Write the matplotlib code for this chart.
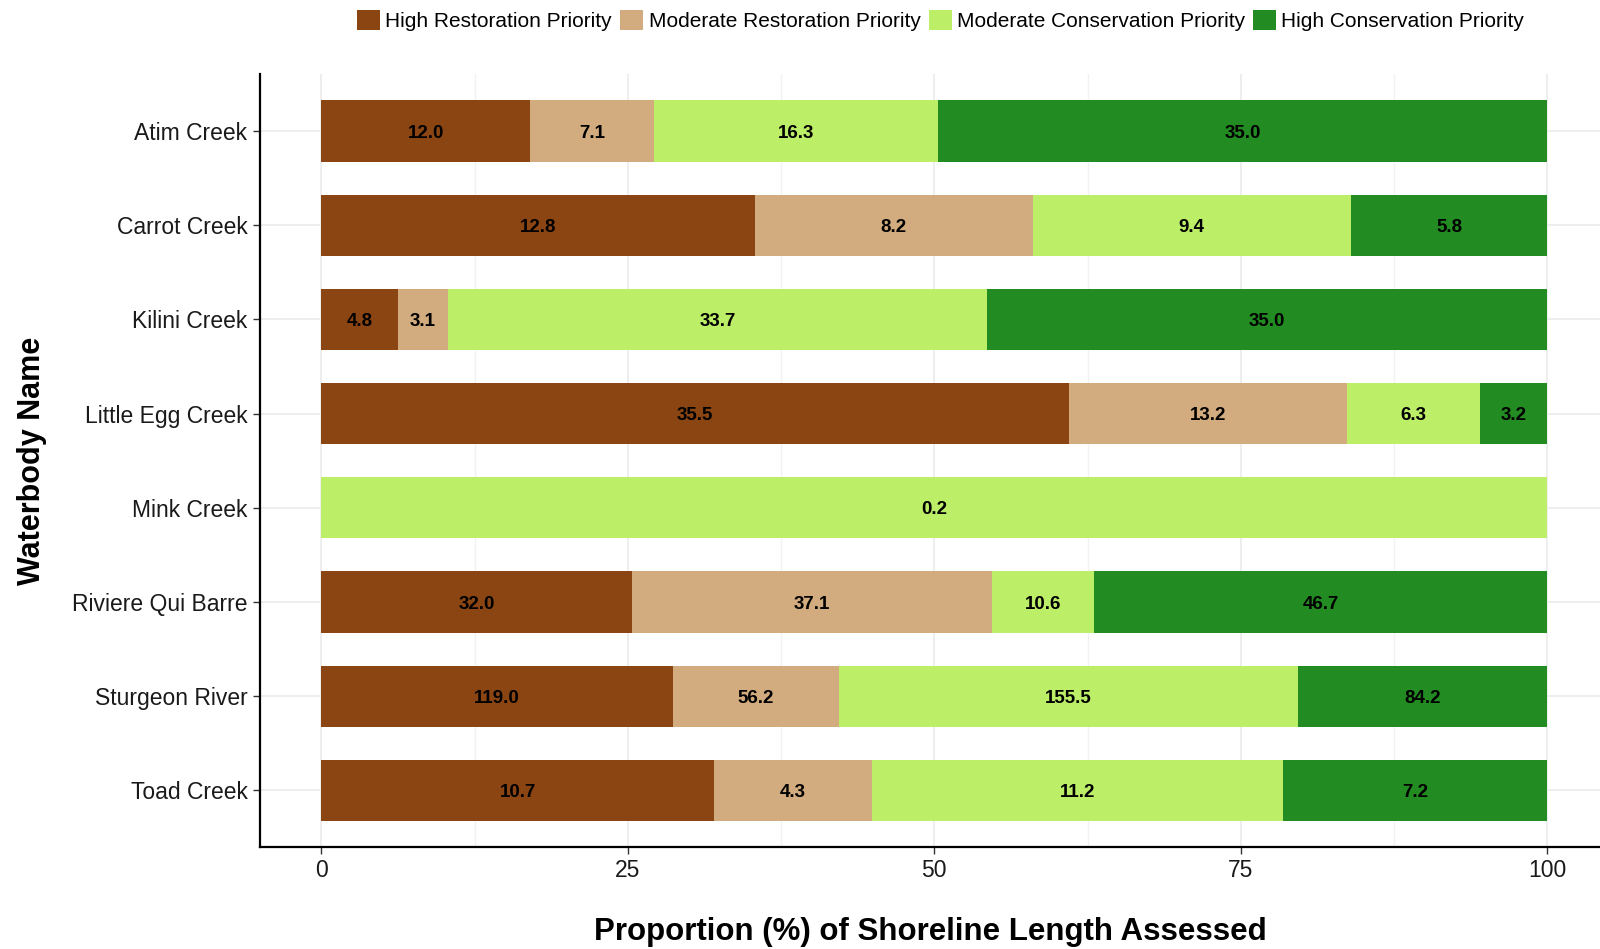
import numpy as np
import matplotlib
matplotlib.use('Agg')
import matplotlib.pyplot as plt
from matplotlib.patches import Patch

plt.rcParams['font.family'] = ['Liberation Sans', 'DejaVu Sans']

# shoreline length (km) by priority class
waterbodies = ['Atim Creek', 'Carrot Creek', 'Kilini Creek', 'Little Egg Creek',
               'Mink Creek', 'Riviere Qui Barre', 'Sturgeon River', 'Toad Creek']
high_rest = [12.0, 12.8, 4.8, 35.5, 0.0, 32.0, 119.0, 10.7]
mod_rest = [7.1, 8.2, 3.1, 13.2, 0.0, 37.1, 56.2, 4.3]
mod_cons = [16.3, 9.4, 33.7, 6.3, 0.2, 10.6, 155.5, 11.2]
high_cons = [35.0, 5.8, 35.0, 3.2, 0.0, 46.7, 84.2, 7.2]

classes = ['High Restoration Priority', 'Moderate Restoration Priority',
           'Moderate Conservation Priority', 'High Conservation Priority']
colors = ['#8B4513', '#D2AB7E', '#BCEE68', '#228B22']

vals = np.array([high_rest, mod_rest, mod_cons, high_cons])
prop = vals / vals.sum(axis=0) * 100

fig = plt.figure(figsize=(16, 9.49), dpi=100)
ax = fig.add_axes([0.1625, 0.1075, 0.8375, 0.814])

y = np.arange(len(waterbodies))
left = np.zeros(len(waterbodies))
for k in range(4):
    ax.barh(y, prop[k], left=left, height=0.65, color=colors[k], zorder=2)
    for i in range(len(waterbodies)):
        if vals[k, i] > 0:
            ax.text(left[i] + prop[k, i] / 2, y[i], '%.1f' % vals[k, i],
                    ha='center', va='center_baseline', fontsize=13.5,
                    fontweight='bold', color='black', zorder=3)
    left += prop[k]

ax.set_xlim(-5, 104.3)
ax.set_ylim(len(waterbodies) - 0.4, -0.6)
ax.set_yticks(y)
ax.set_yticklabels(waterbodies)
ax.set_xticks([0, 25, 50, 75, 100])
ax.set_xticks([12.5, 37.5, 62.5, 87.5], minor=True)
ax.tick_params(axis='both', which='major', labelsize=16.5, length=5, width=1,
               color='#333333', labelcolor='#1a1a1a', pad=4)
ax.tick_params(axis='x', which='minor', length=0)
ax.grid(which='major', color='#EBEBEB', lw=1.2, zorder=0)
ax.grid(which='minor', axis='x', color='#F2F2F2', lw=1.0, zorder=0)

for s in ['top', 'right']:
    ax.spines[s].set_visible(False)
for s in ['left', 'bottom']:
    ax.spines[s].set_color('black')
    ax.spines[s].set_linewidth(1.6)

ax.set_xlabel('Proportion (%) of Shoreline Length Assessed', fontsize=22.5,
              fontweight='bold', labelpad=25)
ax.set_ylabel('Waterbody Name', fontsize=22, fontweight='bold', labelpad=18)

handles = [Patch(facecolor=c, edgecolor='none') for c in colors]
fig.legend(handles, classes, loc='center', bbox_to_anchor=(0.588, 0.978), ncol=4,
           frameon=False, fontsize=15, handlelength=1.1, handleheight=1.1,
           handletextpad=0.25, columnspacing=0.4)

fig.savefig('out.png', dpi=100)
